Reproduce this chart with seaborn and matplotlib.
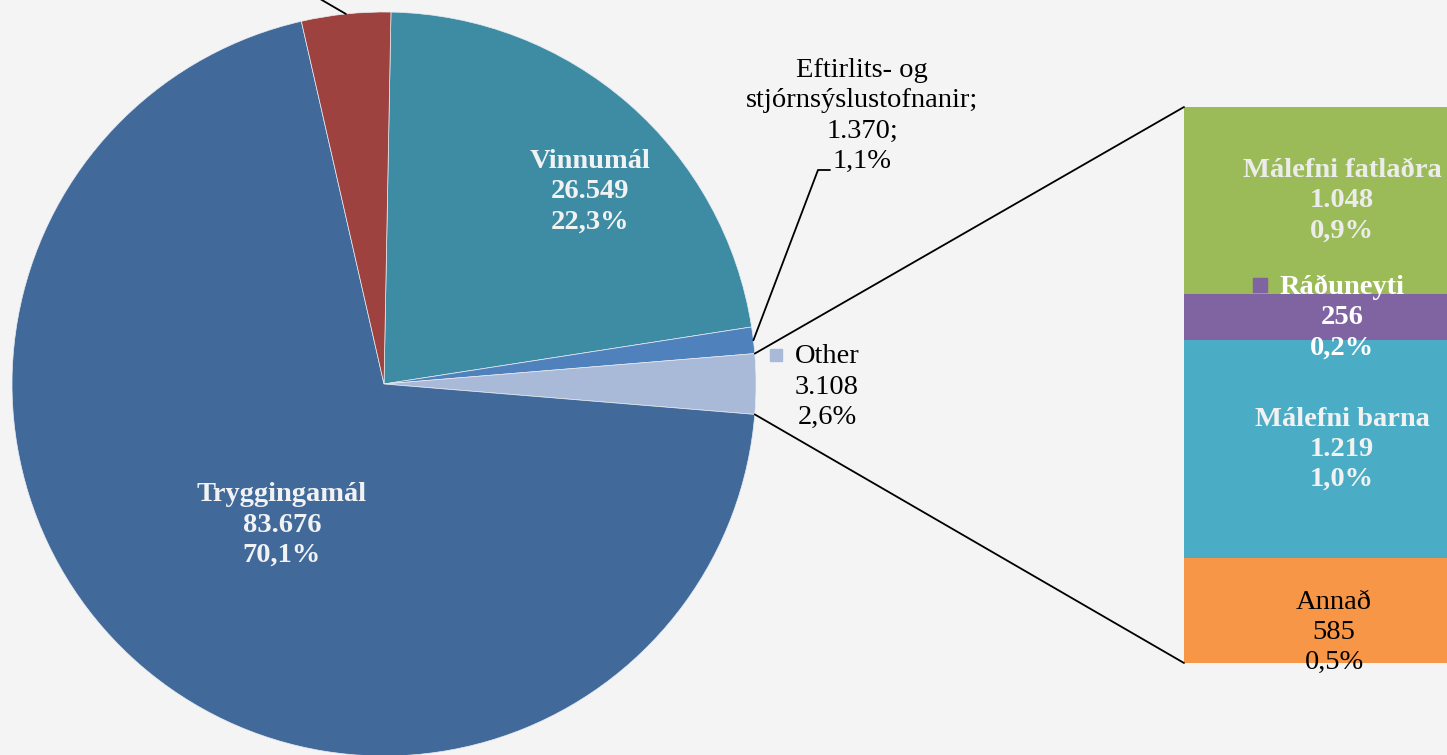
import numpy as np
import matplotlib
matplotlib.use("Agg")
import matplotlib.pyplot as plt
from matplotlib.patches import ConnectionPatch
import matplotlib.transforms as mtransforms
import seaborn as sns

# ---------------- data ----------------
pie_labels = ["Vinnumál", "Eftirlits- og\nstjórnsýslustofnanir", "Other", "Tryggingamál", "Húsnæðismál"]
pie_values = [26549, 1370, 3108, 83676, 4610]
pie_colors = ["#3E8CA4", "#4F81BD", "#A9B9D8", "#416A9B", "#9E423F"]

bar_labels = ["Annað", "Málefni barna", "Ráðuneyti", "Málefni fatlaðra"]   # bottom -> top
bar_values = [585, 1219, 256, 1048]
bar_colors = ["#F79646", "#4BACC6", "#8064A2", "#9BBB59"]

BG = "#F4F4F4"
W, H = 1447, 755

sns.set_theme(style="white")
plt.rcParams["font.family"] = ["Liberation Serif", "DejaVu Serif"]

total = sum(pie_values)


def fmt_num(v):
    return f"{v:,}".replace(",", ".")


def fmt_pct(v):
    return f"{100 * v / total:.1f}%".replace(".", ",")


fig = plt.figure(figsize=(W / 100, H / 100), dpi=100, facecolor=BG)
ax = fig.add_axes([0, 0, 1, 1])
ax.set_facecolor(BG)

cx, cy, R = 384, H - 384, 372
other_idx = 2
start = 360 * (sum(pie_values[:other_idx]) + pie_values[other_idx] / 2) / total
wedges, _ = ax.pie(pie_values, colors=pie_colors, startangle=start, counterclock=False,
                   center=(cx, cy), radius=R,
                   wedgeprops=dict(edgecolor="#E8ECF2", linewidth=0.5))
ax.set_xlim(0, W)
ax.set_ylim(0, H)
ax.set_aspect("equal")
ax.axis("off")

# angles of slices (degrees, math convention)
cum = np.cumsum([0] + pie_values)
ang_start = start - 360 * cum[:-1] / total
ang_end = start - 360 * cum[1:] / total
ang_mid = (ang_start + ang_end) / 2


def edge(a):
    r = np.deg2rad(a)
    return cx + R * np.cos(r), cy + R * np.sin(r)


FS = 20.5
LS = 1.27
light = "#F2F2F2"

# inside labels
ax.text(590, H - 192, f"{pie_labels[0]}\n{fmt_num(pie_values[0])}\n{fmt_pct(pie_values[0])}",
        ha="center", va="center", fontsize=FS, fontweight="bold", color=light, linespacing=LS)
ax.text(282, H - 525, f"{pie_labels[3]}\n{fmt_num(pie_values[3])}\n{fmt_pct(pie_values[3])}",
        ha="center", va="center", fontsize=FS, fontweight="bold", color=light, linespacing=LS)

# Eftirlits label with leader
p = edge(ang_mid[1])
elbow = (818, H - 170)
ax.plot([p[0], elbow[0], elbow[0] + 12], [p[1], elbow[1], elbow[1]], color="black", lw=1.3)
name1, name2 = pie_labels[1].split("\n")
ax.text(862, H - 116, f"{name1}\n{name2};\n{fmt_num(pie_values[1])};\n{fmt_pct(pie_values[1])}",
        ha="center", va="center", fontsize=FS, color="black", linespacing=LS)

# Other label
ax.plot([776], [H - 355], marker="s", ms=9, color=pie_colors[2], ls="none")
ax.text(827, H - 387, f"{pie_labels[2]}\n{fmt_num(pie_values[2])}\n{fmt_pct(pie_values[2])}",
        ha="center", va="center", fontsize=FS, color="black", linespacing=LS)

# red slice leader line (label lies outside the picture)
p = edge(ang_mid[4])
ax.plot([p[0], p[0] - 55], [p[1], p[1] + 32], color="black", lw=1.3, clip_on=False)

# ---------------- bar of pie ----------------
bx = fig.add_axes([1184 / W, (H - 663) / H, (W - 1184) / W, 556 / H])
bx.set_facecolor(BG)
bar_total = sum(bar_values)
bottoms = np.concatenate([[0], np.cumsum(bar_values)[:-1]])
bx.bar([0.5] * len(bar_values), bar_values, bottom=bottoms, width=1.0, color=bar_colors,
       linewidth=0)
bx.set_xlim(0, (W - 1184) / 316)
bx.set_ylim(0, bar_total)
bx.axis("off")

styles = {
    "Annað": dict(color="black", fontweight="normal", dx=-0.025, dy=-22),
    "Málefni barna": dict(color=light, fontweight="bold", dx=0, dy=0),
    "Ráðuneyti": dict(color="white", fontweight="bold", dx=0, dy=0),
    "Málefni fatlaðra": dict(color="#ECECEC", fontweight="bold", dx=0, dy=0),
}
for lab, v, b in zip(bar_labels, bar_values, bottoms):
    st = styles[lab]
    bx.annotate(f"{lab}\n{fmt_num(v)}\n{fmt_pct(v)}", xy=(0.5 + st["dx"], b + v / 2),
                xytext=(0, st["dy"]), textcoords="offset pixels",
                ha="center", va="center", fontsize=FS, fontweight=st["fontweight"],
                color=st["color"], linespacing=LS, annotation_clip=False)
    if lab == "Ráðuneyti":
        tr = mtransforms.offset_copy(bx.transData, fig=fig, x=0, y=32, units="dots")
        bx.plot([0.24], [b + v / 2], marker="s", ms=10, color=bar_colors[2], ls="none",
                transform=tr, clip_on=False)

# connector lines
th = 360 * pie_values[other_idx] / total / 2
for a, yb in [(th, bar_total), (-th, 0)]:
    con = ConnectionPatch(xyA=edge(a), coordsA=ax.transData, xyB=(0, yb), coordsB=bx.transData,
                          color="black", lw=1.3)
    fig.add_artist(con)

fig.savefig("out.png", dpi=100, facecolor=BG)
